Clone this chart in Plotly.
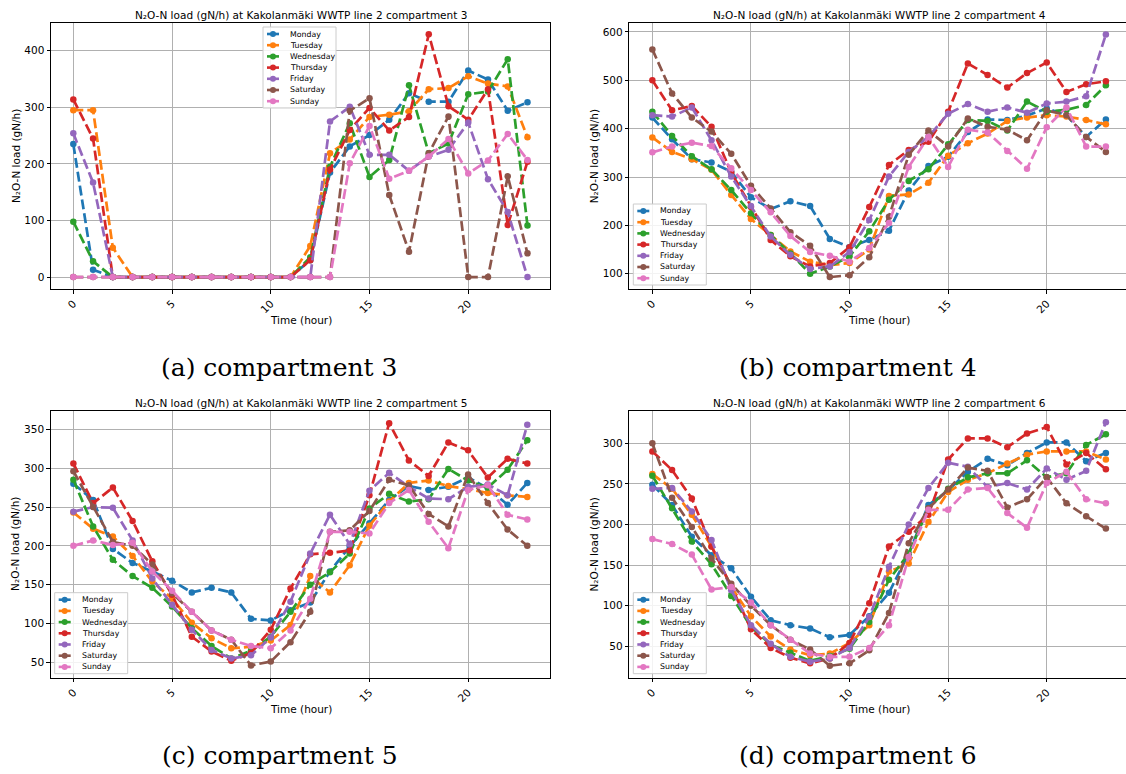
import plotly.graph_objects as go

W, H = 1126, 774

hours = list(range(24))
days = ["Monday", "Tuesday", "Wednesday", "Thursday", "Friday", "Saturday", "Sunday"]
colors = ["#1f77b4", "#ff7f0e", "#2ca02c", "#d62728", "#9467bd", "#8c564b", "#e377c2"]

# compartment 3
c3_mon = [235, 13, 0, 0, 0, 0, 0, 0, 0, 0, 0, 0, 30, 185, 231, 251, 278, 325, 310, 310, 365, 349, 294, 309]
c3_tue = [295, 295, 52, 0, 0, 0, 0, 0, 0, 0, 0, 0, 55, 219, 243, 283, 287, 293, 332, 334, 355, 342, 337, 247]
c3_wed = [98, 28, 0, 0, 0, 0, 0, 0, 0, 0, 0, 0, 35, 195, 272, 177, 207, 339, 219, 236, 323, 328, 385, 91]
c3_thu = [314, 245, 0, 0, 0, 0, 0, 0, 0, 0, 0, 0, 30, 190, 260, 299, 259, 283, 429, 302, 278, 332, 92, 204]
c3_fri = [254, 167, 0, 0, 0, 0, 0, 0, 0, 0, 0, 0, 0, 275, 301, 216, 216, 188, 213, 225, 273, 173, 115, 0]
c3_sat = [0, 0, 0, 0, 0, 0, 0, 0, 0, 0, 0, 0, 0, 0, 294, 316, 145, 45, 219, 284, 0, 0, 178, 42]
c3_sun = [0, 0, 0, 0, 0, 0, 0, 0, 0, 0, 0, 0, 0, 0, 201, 267, 174, 188, 213, 244, 183, 206, 253, 207]

# compartment 4
c4_mon = [423, 378, 337, 330, 311, 258, 234, 250, 240, 172, 155, 170, 189, 272, 323, 342, 393, 419, 418, 427, 442, 428, 383, 419]
c4_tue = [382, 352, 337, 315, 263, 213, 180, 146, 125, 118, 122, 150, 261, 264, 288, 344, 370, 390, 416, 423, 428, 425, 418, 409]
c4_wed = [435, 385, 343, 316, 273, 225, 180, 142, 100, 115, 136, 188, 253, 292, 316, 368, 418, 416, 396, 456, 435, 439, 449, 490]
c4_thu = [500, 438, 447, 404, 309, 238, 170, 136, 115, 122, 155, 238, 325, 356, 373, 435, 535, 511, 485, 515, 537, 476, 492, 498]
c4_fri = [428, 425, 444, 376, 301, 240, 177, 139, 110, 115, 145, 211, 301, 352, 383, 431, 451, 435, 444, 433, 452, 456, 467, 595]
c4_sat = [564, 473, 423, 394, 348, 282, 235, 186, 158, 93, 97, 134, 218, 346, 396, 363, 421, 404, 398, 376, 438, 428, 383, 352]
c4_sun = [351, 363, 371, 364, 318, 273, 227, 178, 145, 137, 125, 153, 205, 321, 383, 321, 398, 392, 354, 317, 403, 444, 363, 363]

# compartment 5
c5_mon = [280, 259, 196, 178, 167, 155, 140, 146, 140, 106, 104, 117, 127, 167, 199, 229, 259, 277, 272, 276, 288, 274, 253, 281]
c5_tue = [243, 222, 212, 187, 154, 132, 101, 81, 68, 70, 78, 98, 161, 140, 175, 226, 257, 281, 284, 277, 273, 268, 265, 263]
c5_wed = [285, 225, 182, 161, 146, 122, 94, 71, 55, 65, 83, 115, 150, 166, 190, 248, 267, 257, 260, 299, 284, 275, 298, 336]
c5_thu = [306, 255, 275, 232, 180, 137, 83, 64, 52, 62, 92, 145, 189, 191, 194, 265, 358, 310, 290, 333, 323, 288, 312, 306]
c5_fri = [244, 250, 249, 207, 158, 124, 92, 66, 55, 59, 82, 128, 190, 240, 202, 271, 294, 276, 261, 260, 276, 279, 265, 356]
c5_sat = [296, 250, 205, 200, 176, 139, 115, 91, 79, 46, 51, 76, 115, 218, 220, 245, 285, 278, 241, 225, 292, 255, 221, 200]
c5_sun = [200, 207, 201, 204, 167, 142, 115, 91, 79, 71, 68, 91, 132, 218, 218, 216, 255, 272, 231, 197, 272, 278, 240, 234]

# compartment 6
c6_mon = [249, 224, 185, 162, 146, 111, 82, 76, 72, 61, 64, 87, 116, 164, 224, 242, 265, 281, 273, 288, 301, 301, 278, 288]
c6_tue = [262, 244, 212, 173, 123, 87, 62, 46, 39, 41, 54, 76, 142, 152, 203, 240, 255, 263, 275, 286, 290, 290, 290, 280]
c6_wed = [260, 220, 179, 151, 112, 74, 52, 42, 32, 38, 47, 80, 132, 164, 220, 244, 258, 263, 263, 279, 258, 263, 298, 311]
c6_thu = [290, 267, 232, 173, 124, 71, 48, 36, 29, 35, 54, 103, 173, 191, 212, 280, 306, 306, 295, 312, 320, 274, 288, 268]
c6_fri = [244, 245, 216, 181, 119, 76, 53, 37, 31, 35, 48, 86, 148, 200, 245, 276, 271, 246, 251, 243, 269, 255, 266, 326]
c6_sat = [300, 233, 197, 158, 127, 100, 76, 58, 46, 26, 29, 45, 91, 177, 220, 243, 270, 266, 221, 231, 258, 226, 210, 195]
c6_sun = [182, 176, 163, 120, 123, 104, 76, 58, 41, 37, 37, 48, 76, 160, 218, 218, 243, 245, 214, 196, 251, 265, 231, 226]

panels = [
    dict(comp=3, series=[c3_mon, c3_tue, c3_wed, c3_thu, c3_fri, c3_sat, c3_sun],
         yticks=[0, 100, 200, 300, 400], caption="(a) compartment 3"),
    dict(comp=4, series=[c4_mon, c4_tue, c4_wed, c4_thu, c4_fri, c4_sat, c4_sun],
         yticks=[100, 200, 300, 400, 500, 600], caption="(b) compartment 4"),
    dict(comp=5, series=[c5_mon, c5_tue, c5_wed, c5_thu, c5_fri, c5_sat, c5_sun],
         yticks=[50, 100, 150, 200, 250, 300, 350], caption="(c) compartment 5"),
    dict(comp=6, series=[c6_mon, c6_tue, c6_wed, c6_thu, c6_fri, c6_sat, c6_sun],
         yticks=[50, 100, 150, 200, 250, 300], caption="(d) compartment 6"),
]

# layout geometry (pixels)
boxes = [
    dict(l=51, r=550, t=23, b=289, xr=[-1.13, 24.14], yr=[-21, 449], cx=300.5, legend="top"),
    dict(l=629.3, r=1126, t=23, b=289, xr=[-1.17, 24.02], yr=[68.4, 618.6], cx=879, legend="bottom"),
    dict(l=50.7, r=550, t=410.7, b=677.7, xr=[-1.15, 24.15], yr=[30.2, 374], cx=300.5, legend="bottom"),
    dict(l=629.3, r=1126, t=410.7, b=677.7, xr=[-1.17, 24.02], yr=[11.3, 340.1], cx=879, legend="bottom"),
]


def px(x):
    return x / W


def py(y):
    return 1 - y / H


fig = go.Figure()
FONT = "DejaVu Sans"
annotations = []
shapes = []

for i, (p, bx) in enumerate(zip(panels, boxes)):
    n = "" if i == 0 else str(i + 1)
    for d, c, vals in zip(days, colors, p["series"]):
        fig.add_trace(go.Scatter(
            x=hours, y=vals, mode="lines+markers", name=d, showlegend=False,
            line=dict(color=c, width=2.7, dash="10px,4px"),
            marker=dict(color=c, size=6.5),
            xaxis="x" + n, yaxis="y" + n))
    common = dict(showline=True, linecolor="black", linewidth=1, mirror=True,
                  ticks="outside", ticklen=3.5, tickcolor="black", tickwidth=0.8,
                  showgrid=True, gridcolor="#b0b0b0", gridwidth=0.8, zeroline=False,
                  tickfont=dict(family=FONT, size=10.5, color="black"))
    fig.update_layout(**{
        "xaxis" + n: dict(domain=[px(bx["l"]), min(1.0, px(bx["r"]))], anchor="y" + n,
                          range=bx["xr"], tickvals=[0, 5, 10, 15, 20], tickangle=-45, **common),
        "yaxis" + n: dict(domain=[py(bx["b"]), py(bx["t"])], anchor="x" + n,
                          range=bx["yr"], tickvals=p["yticks"], **common),
    })
    # title
    annotations.append(dict(x=px(bx["cx"]), y=py(bx["t"] - 8), xref="paper", yref="paper",
                            text=f"N₂O-N load (gN/h) at Kakolanmäki WWTP line 2 compartment {p['comp']}",
                            showarrow=False, xanchor="center", yanchor="middle",
                            font=dict(family=FONT, size=10.5, color="black")))
    # x label
    annotations.append(dict(x=px(bx["cx"]), y=py(bx["b"] + 31), xref="paper", yref="paper",
                            text="Time (hour)", showarrow=False, xanchor="center", yanchor="middle",
                            font=dict(family=FONT, size=10.5, color="black")))
    # y label
    annotations.append(dict(x=px(bx["l"] - 35), y=py((bx["t"] + bx["b"]) / 2), xref="paper", yref="paper",
                            text="N₂O-N load (gN/h)", showarrow=False, textangle=-90,
                            xanchor="center", yanchor="middle",
                            font=dict(family=FONT, size=10.5, color="black")))
    # caption
    annotations.append(dict(x=px(bx["cx"] - 21), y=py(bx["b"] + 78), xref="paper", yref="paper",
                            text=p["caption"], showarrow=False, xanchor="center", yanchor="middle",
                            font=dict(family="DejaVu Serif", size=25, color="black")))
    # legend (manual)
    if bx["legend"] == "top":
        L, T = 263, 27
    else:
        L, T = bx["l"] + 4, bx["b"] - 85
    Wb, Hb, step = 73, 81, 11.2
    shapes.append(dict(type="rect", xref="paper", yref="paper", x0=px(L), x1=px(L + Wb),
                       y0=py(T + Hb), y1=py(T), fillcolor="rgba(255,255,255,0.85)",
                       line=dict(color="#cccccc", width=1), layer="above"))
    for k, (d, c) in enumerate(zip(days, colors)):
        yy = T + 7 + k * step
        shapes.append(dict(type="line", xref="paper", yref="paper", x0=px(L + 4), x1=px(L + 16),
                           y0=py(yy), y1=py(yy), line=dict(color=c, width=2.6), layer="above"))
        shapes.append(dict(type="circle", xref="paper", yref="paper", x0=px(L + 10 - 3), x1=px(L + 10 + 3),
                           y0=py(yy + 3), y1=py(yy - 3), fillcolor=c, line=dict(color=c, width=0),
                           layer="above"))
        annotations.append(dict(x=px(L + 25), y=py(yy), xref="paper", yref="paper", text=d,
                                showarrow=False, xanchor="left", yanchor="middle",
                                font=dict(family=FONT, size=7.8, color="black")))

fig.update_layout(width=W, height=H, margin=dict(l=0, r=0, t=0, b=0),
                  paper_bgcolor="white", plot_bgcolor="white", showlegend=False,
                  annotations=annotations, shapes=shapes)

fig.write_html("out.html", config={"displayModeBar": False},
               post_script="document.body.style.margin='0';document.body.style.padding='0';"
                           "document.body.style.overflow='hidden';")
